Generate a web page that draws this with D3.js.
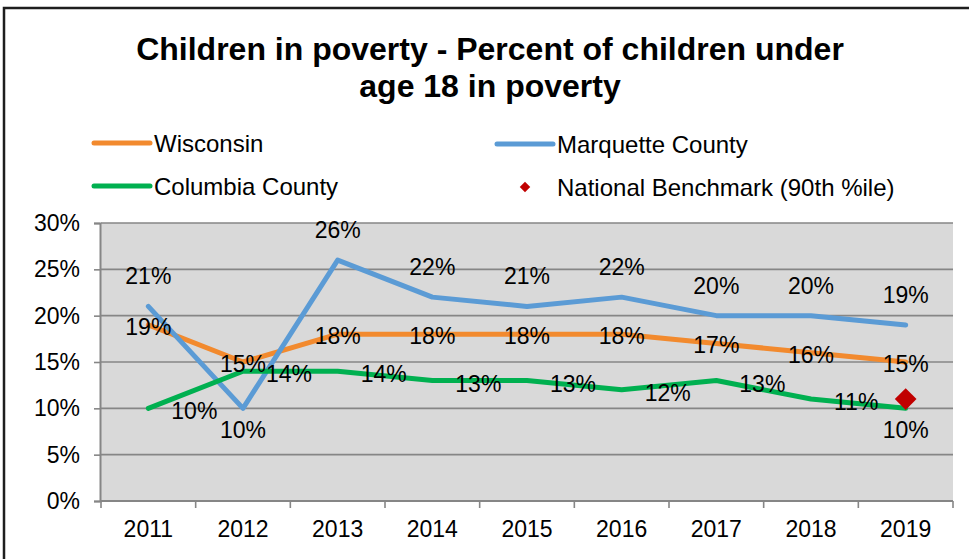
<!DOCTYPE html>
<html>
<head>
<meta charset="utf-8">
<script src="https://cdn.jsdelivr.net/npm/d3@7"></script>
<style>
  html, body { margin: 0; padding: 0; background: #fff; }
  svg { display: block; font-family: "Liberation Sans", Arial, sans-serif; }
</style>
</head>
<body>
<svg id="chart" width="969" height="559"></svg>
<script>
// Children in poverty (% of children under 18), 2011-2019
const years = ["2011", "2012", "2013", "2014", "2015", "2016", "2017", "2018", "2019"];
const wisconsin = [19, 15, 18, 18, 18, 18, 17, 16, 15];
const marquette = [21, 10, 26, 22, 21, 22, 20, 20, 19];
const columbia = [10, 14, 14, 13, 13, 12, 13, 11, 10];
const benchmarkYear = "2019";
const benchmarkValue = 11;
const yTicks = [0, 5, 10, 15, 20, 25, 30];

// where each data label sits relative to its point
const wisconsinLabelAt = ["center", "center", "center", "center", "center", "center", "center", "center", "center"];
const marquetteLabelAt = ["above", "below", "above", "above", "above", "above", "above", "above", "above"];
const columbiaLabelAt = ["right", "right", "right", "right", "right", "right", "right", "right", "below"];

const series = [
  { name: "Wisconsin", values: wisconsin, color: "#F28A2E", labels: wisconsinLabelAt },
  { name: "Marquette County", values: marquette, color: "#5B9BD5", labels: marquetteLabelAt },
  { name: "Columbia County", values: columbia, color: "#00B050", labels: columbiaLabelAt }
];

const svg = d3.select("#chart");
const plot = { left: 101, right: 953, top: 223, bottom: 501 };
const axisColor = "#868686";

// outer chart frame
svg.append("rect")
  .attr("x", 4).attr("y", 8).attr("width", 1000).attr("height", 600)
  .attr("fill", "none").attr("stroke", "#1e1e1e").attr("stroke-width", 2.5);

// title
const title = svg.append("text")
  .attr("text-anchor", "middle")
  .attr("font-size", 32).attr("font-weight", "bold").attr("fill", "#000");
title.append("tspan").attr("x", 490).attr("y", 60).text("Children in poverty - Percent of children under");
title.append("tspan").attr("x", 490).attr("y", 97).text("age 18 in poverty");

// scales
const x = d3.scaleBand().domain(years).range([plot.left, plot.right]);
const y = d3.scaleLinear().domain([0, 30]).range([plot.bottom, plot.top]);
const cx = d => x(d) + x.bandwidth() / 2;

// plot background
svg.append("rect")
  .attr("x", plot.left).attr("y", plot.top)
  .attr("width", plot.right - plot.left).attr("height", plot.bottom - plot.top)
  .attr("fill", "#D9D9D9");

// horizontal gridlines
svg.append("g").selectAll("line").data(yTicks.filter(t => t > 0)).join("line")
  .attr("x1", plot.left).attr("x2", plot.right)
  .attr("y1", d => y(d)).attr("y2", d => y(d))
  .attr("stroke", axisColor).attr("stroke-width", 1.6);

// y axis
const yAxis = svg.append("g")
  .attr("transform", `translate(${plot.left - 1},0)`)
  .call(d3.axisLeft(y).tickValues(yTicks).tickFormat(d => d + "%").tickSize(6).tickPadding(14));
yAxis.select(".domain").attr("stroke", axisColor).attr("stroke-width", 2);
yAxis.selectAll(".tick line").attr("stroke", axisColor).attr("stroke-width", 1.6);
yAxis.selectAll(".tick text").attr("font-size", 23).attr("fill", "#000")
  .attr("font-family", "'Liberation Sans', Arial, sans-serif");

// x axis: ticks sit on category boundaries
const xAxis = svg.append("g").attr("transform", `translate(0,${plot.bottom})`);
xAxis.append("line")
  .attr("x1", plot.left - 1).attr("x2", plot.right)
  .attr("stroke", axisColor).attr("stroke-width", 2);
const boundaries = years.map(d => x(d)).concat([x(years[years.length - 1]) + x.bandwidth()]);
xAxis.selectAll("line.tick").data(boundaries).join("line")
  .attr("class", "tick")
  .attr("x1", d => d).attr("x2", d => d).attr("y1", 0).attr("y2", 7)
  .attr("stroke", axisColor).attr("stroke-width", 1.6);
xAxis.selectAll("text").data(years).join("text")
  .attr("x", d => cx(d)).attr("y", 36)
  .attr("text-anchor", "middle").attr("font-size", 23).attr("fill", "#000")
  .text(d => d);

// series lines
const line = d3.line().x((d, i) => cx(years[i])).y(d => y(d));
series.forEach(s => {
  svg.append("path")
    .datum(s.values)
    .attr("d", line)
    .attr("fill", "none")
    .attr("stroke", s.color)
    .attr("stroke-width", 5)
    .attr("stroke-linejoin", "round")
    .attr("stroke-linecap", "round");
});

// national benchmark marker
svg.append("path")
  .attr("d", d3.symbol(d3.symbolDiamond2, 300)())
  .attr("transform", `translate(${cx(benchmarkYear)},${y(benchmarkValue)})`)
  .attr("fill", "#C00000");

// data labels
const labelLayer = svg.append("g").attr("font-size", 23).attr("fill", "#000");
series.forEach(s => {
  s.values.forEach((v, i) => {
    const px = cx(years[i]), py = y(v);
    const pos = s.labels[i];
    let lx = px, ly = py + 2, anchor = "middle";
    if (pos === "above") { ly = py - 30; }
    else if (pos === "below") { ly = py + 22; }
    else if (pos === "right") { lx = px + 23; ly = py + 3; anchor = "start"; }
    labelLayer.append("text")
      .attr("x", lx).attr("y", ly)
      .attr("text-anchor", anchor)
      .attr("dominant-baseline", "central")
      .text(v + "%");
  });
});

// legend
const legendItems = [
  { name: "Wisconsin", color: "#F28A2E", type: "line", x: 94, y: 143 },
  { name: "Marquette County", color: "#5B9BD5", type: "line", x: 497, y: 144 },
  { name: "Columbia County", color: "#00B050", type: "line", x: 94, y: 186 },
  { name: "National Benchmark (90th %ile)", color: "#C00000", type: "diamond", x: 497, y: 187 }
];
const legend = svg.append("g");
legendItems.forEach(it => {
  if (it.type === "line") {
    legend.append("line")
      .attr("x1", it.x).attr("x2", it.x + 56).attr("y1", it.y).attr("y2", it.y)
      .attr("stroke", it.color).attr("stroke-width", 5).attr("stroke-linecap", "round");
  } else {
    legend.append("path")
      .attr("d", d3.symbol(d3.symbolDiamond2, 70)())
      .attr("transform", `translate(${it.x + 28},${it.y})`)
      .attr("fill", it.color);
  }
  legend.append("text")
    .attr("x", it.x + 60).attr("y", it.y)
    .attr("dominant-baseline", "central")
    .attr("font-size", 24).attr("fill", "#000")
    .text(it.name);
});
</script>
</body>
</html>
